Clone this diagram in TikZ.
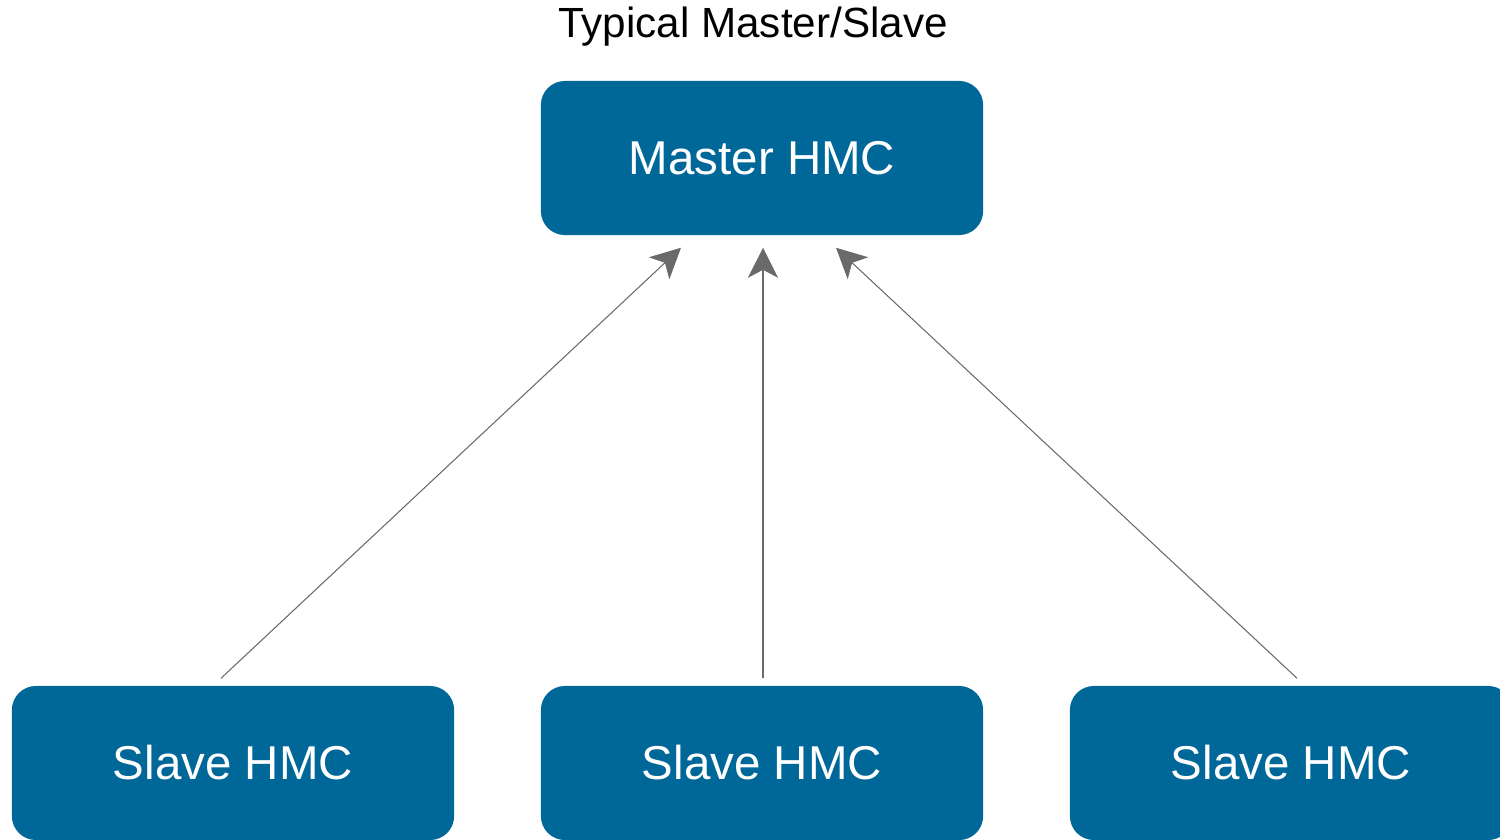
\documentclass[tikz,border=0pt]{standalone}
\usepackage{fontspec}
\setmainfont{Liberation Sans}
\usetikzlibrary{arrows.meta}

\definecolor{hmcblue}{RGB}{0,103,153}
\definecolor{linkgray}{RGB}{106,106,106}

\begin{document}
\begin{tikzpicture}[x=0.01cm,y=0.01cm,
		hmc/.style={fill=hmcblue, text=white, rounded corners=0.24cm,
			minimum width=4.42cm, minimum height=1.54cm, inner sep=0pt,
			font=\fontsize{13.5pt}{16pt}\selectfont},
		link/.style={linkgray, line width=0.3pt,
			-{Stealth[length=0.3cm, width=0.3cm, inset=0.08cm]}}]
		\useasboundingbox (0,0) rectangle (1500,-839);
		\node[font=\fontsize{12pt}{14pt}\selectfont] (title) at (753,-27) {Typical Master/Slave};
		\node[hmc] (master) at (762,-158) {\raisebox{-2pt}{Master HMC}};
		\node[hmc] (slave1) at (233,-763) {\raisebox{-2pt}{Slave HMC}};
		\node[hmc] (slave2) at (762,-763) {\raisebox{-2pt}{Slave HMC}};
		\node[hmc] (slave3) at (1291,-763) {\raisebox{-2pt}{Slave HMC}};
		\draw[link] ([shift={(-12,7)}]slave1.north) -- ([shift={(-81,-12)}]master.south);
		\draw[link] ([shift={(1,7)}]slave2.north) -- ([shift={(1,-12)}]master.south);
		\draw[link] ([shift={(6,7)}]slave3.north) -- ([shift={(74,-12)}]master.south);
	\end{tikzpicture}
\end{document}
